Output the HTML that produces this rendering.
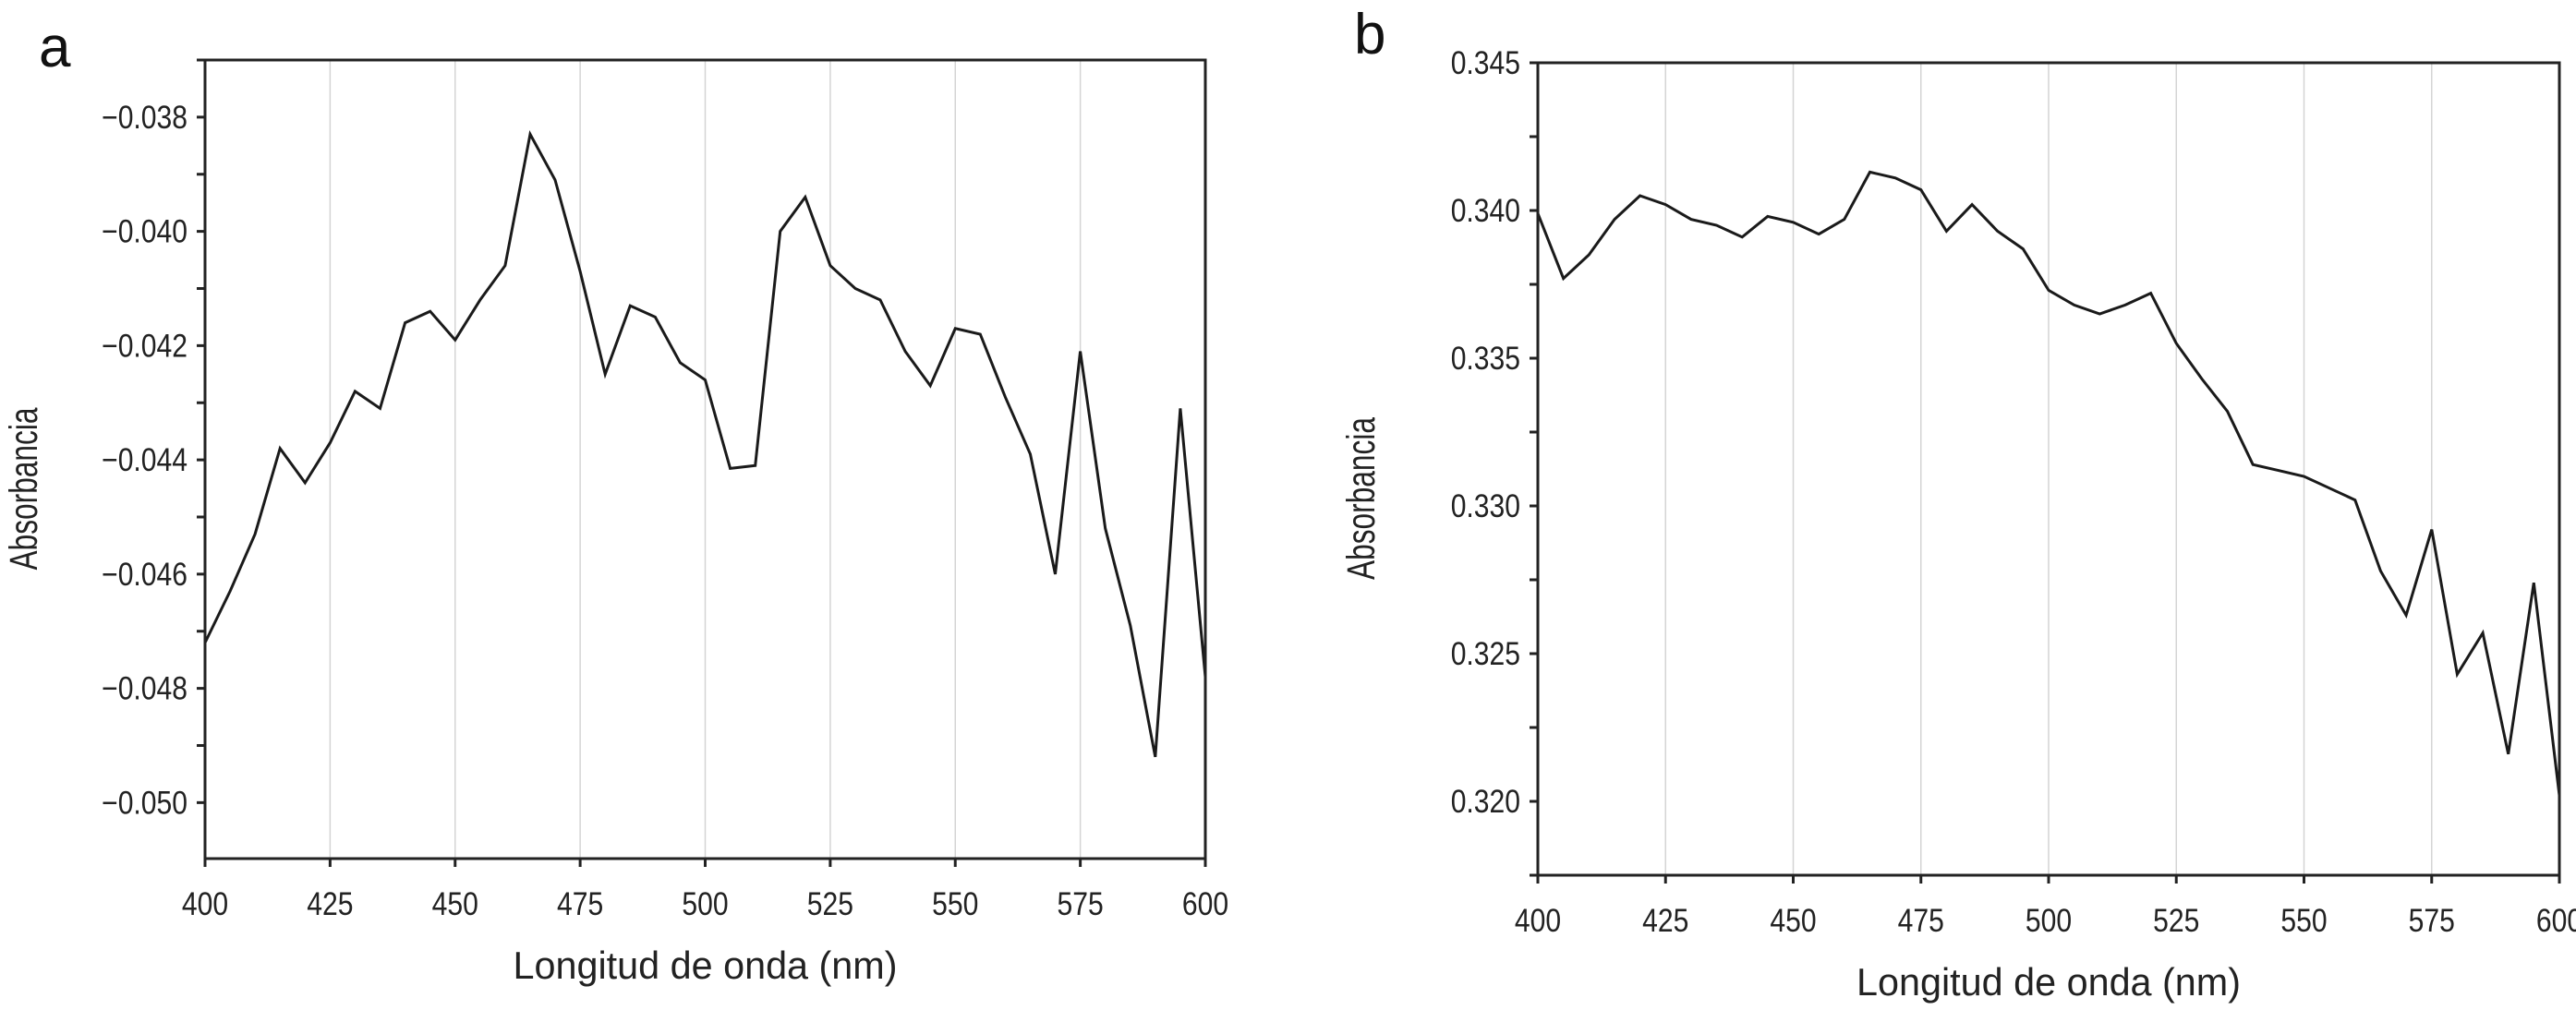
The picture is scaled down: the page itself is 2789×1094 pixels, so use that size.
<!DOCTYPE html>
<html><head><meta charset="utf-8"><style>
html,body{margin:0;padding:0;background:#fff;overflow:hidden;}
svg{display:block;font-family:"Liberation Sans",sans-serif;}
</style></head><body>
<svg id="chart" width="2789" height="1094" viewBox="0 0 2789 1094"></svg>
<script>
const wavelengths = [400,405,410,415,420,425,430,435,440,445,450,455,460,465,470,475,480,485,490,495,500,505,510,515,520,525,530,535,540,545,550,555,560,565,570,575,580,585,590,595,600];
const absorbanceA = [-0.0472,-0.0463,-0.0453,-0.0438,-0.0444,-0.0437,-0.0428,-0.0431,-0.0416,-0.0414,-0.0419,-0.0412,-0.0406,-0.0383,-0.0391,-0.0407,-0.0425,-0.0413,-0.0415,-0.0423,-0.0426,-0.04415,-0.0441,-0.0400,-0.0394,-0.0406,-0.0410,-0.0412,-0.0421,-0.0427,-0.0417,-0.0418,-0.0429,-0.0439,-0.0460,-0.0421,-0.0452,-0.0469,-0.0492,-0.0431,-0.0478];
const absorbanceB = [0.3399,0.3377,0.3385,0.3397,0.3405,0.3402,0.3397,0.3395,0.3391,0.3398,0.3396,0.3392,0.3397,0.3413,0.3411,0.3407,0.3393,0.3402,0.3393,0.3387,0.3373,0.3368,0.3365,0.3368,0.3372,0.3355,0.3343,0.3332,0.3314,0.3312,0.3310,0.3306,0.3302,0.3278,0.3263,0.3292,0.3243,0.3257,0.3216,0.3274,0.3202];
const xTicks = [400,425,450,475,500,525,550,575,600];
const yTicksA = [-0.038,-0.040,-0.042,-0.044,-0.046,-0.048,-0.050];
const yTickLabelsA = ["\u22120.038","\u22120.040","\u22120.042","\u22120.044","\u22120.046","\u22120.048","\u22120.050"];
const yTicksB = [0.345,0.340,0.335,0.330,0.325,0.320];
const yTickLabelsB = ["0.345","0.340","0.335","0.330","0.325","0.320"];

const NS="http://www.w3.org/2000/svg";
const svg=document.getElementById('chart');
function mk(tag,attrs,parent){const e=document.createElementNS(NS,tag);for(const k in attrs)e.setAttribute(k,attrs[k]);(parent||svg).appendChild(e);return e;}

function panel(cfg){
  const g=mk('g',{});
  
  
  const {L,R,T,B,ymin,ymax}=cfg;
  const sx=v=>L+(v-400)/200*(R-L);
  const sy=v=>B-(v-ymin)/(ymax-ymin)*(B-T);
  xTicks.forEach(t=>{
    if(t>400&&t<600){const gl=mk('line',{x1:sx(t),x2:sx(t),y1:T,y2:B,stroke:'#d4d4d4','stroke-width':1.5},g);
    
    }
    const tk=mk('line',{x1:sx(t),x2:sx(t),y1:B,y2:B+9,stroke:'#222','stroke-width':3},g);
    
    
    const tx=mk('text',{x:sx(t),y:B+61,'text-anchor':'middle','font-size':35,fill:'#222',transform:`translate(${sx(t)},0) scale(0.86,1) translate(${-sx(t)},0)`},g);
    tx.textContent=t;
    
    
  });
  for(let v=cfg.minorStart;v<=ymax+1e-9;v+=cfg.minorStep){
    const y=sy(v); if(y<T-1||y>B+1)continue;
    const m=mk('line',{x1:L-9,x2:L,y1:y,y2:y,stroke:'#222','stroke-width':3},g);
    
    
  }
  cfg.yTicks.forEach((t,i)=>{
    const tx=mk('text',{x:L-19,y:sy(t)+12,'text-anchor':'end','font-size':35,fill:'#222',transform:`translate(${L-19},0) scale(0.86,1) translate(${-(L-19)},0)`},g);
    tx.textContent=cfg.yLabels[i];
    
    
  });
  const d=wavelengths.map((w,i)=>(i?'L':'M')+sx(w).toFixed(1)+','+sy(cfg.data[i]).toFixed(1)).join('');
  const p=mk('path',{d:d,fill:'none',stroke:'#1a1a1a','stroke-width':3,'stroke-linejoin':'miter'},g);
  
  
  const fr=mk('rect',{x:L,y:T,width:R-L,height:B-T,fill:'none',stroke:'#222','stroke-width':3},g);
  
  
  const xt=mk('text',{x:(L+R)/2-208,y:B+130,'font-size':42,fill:'#222',textLength:416,lengthAdjust:'spacingAndGlyphs'},g);
  xt.textContent='Longitud de onda (nm)';
  
  
  const yt=mk('text',{x:-88,y:0,'font-size':43,fill:'#222',textLength:176,lengthAdjust:'spacingAndGlyphs',transform:`translate(${cfg.ytx},${(T+B)/2+32}) rotate(-90)`},g);
  yt.textContent='Absorbancia';
  
  
  const pl=mk('text',{x:cfg.lx,y:cfg.ly,'font-size':62,fill:'#111'},g);
  pl.textContent=cfg.letter;
  
  
}
panel({name:'panel-a',L:222,R:1305,T:65,B:930,ymin:-0.05098,ymax:-0.0370,yTicks:yTicksA,yLabels:yTickLabelsA,minorStart:-0.051,minorStep:0.001,data:absorbanceA,ytx:40,lx:42,ly:72,letter:'a'});
panel({name:'panel-b',L:1665,R:2771,T:68,B:948,ymin:0.3175,ymax:0.345,yTicks:yTicksB,yLabels:yTickLabelsB,minorStart:0.3175,minorStep:0.0025,data:absorbanceB,ytx:1488,lx:1466,ly:58,letter:'b'});
</script>
</body></html>
